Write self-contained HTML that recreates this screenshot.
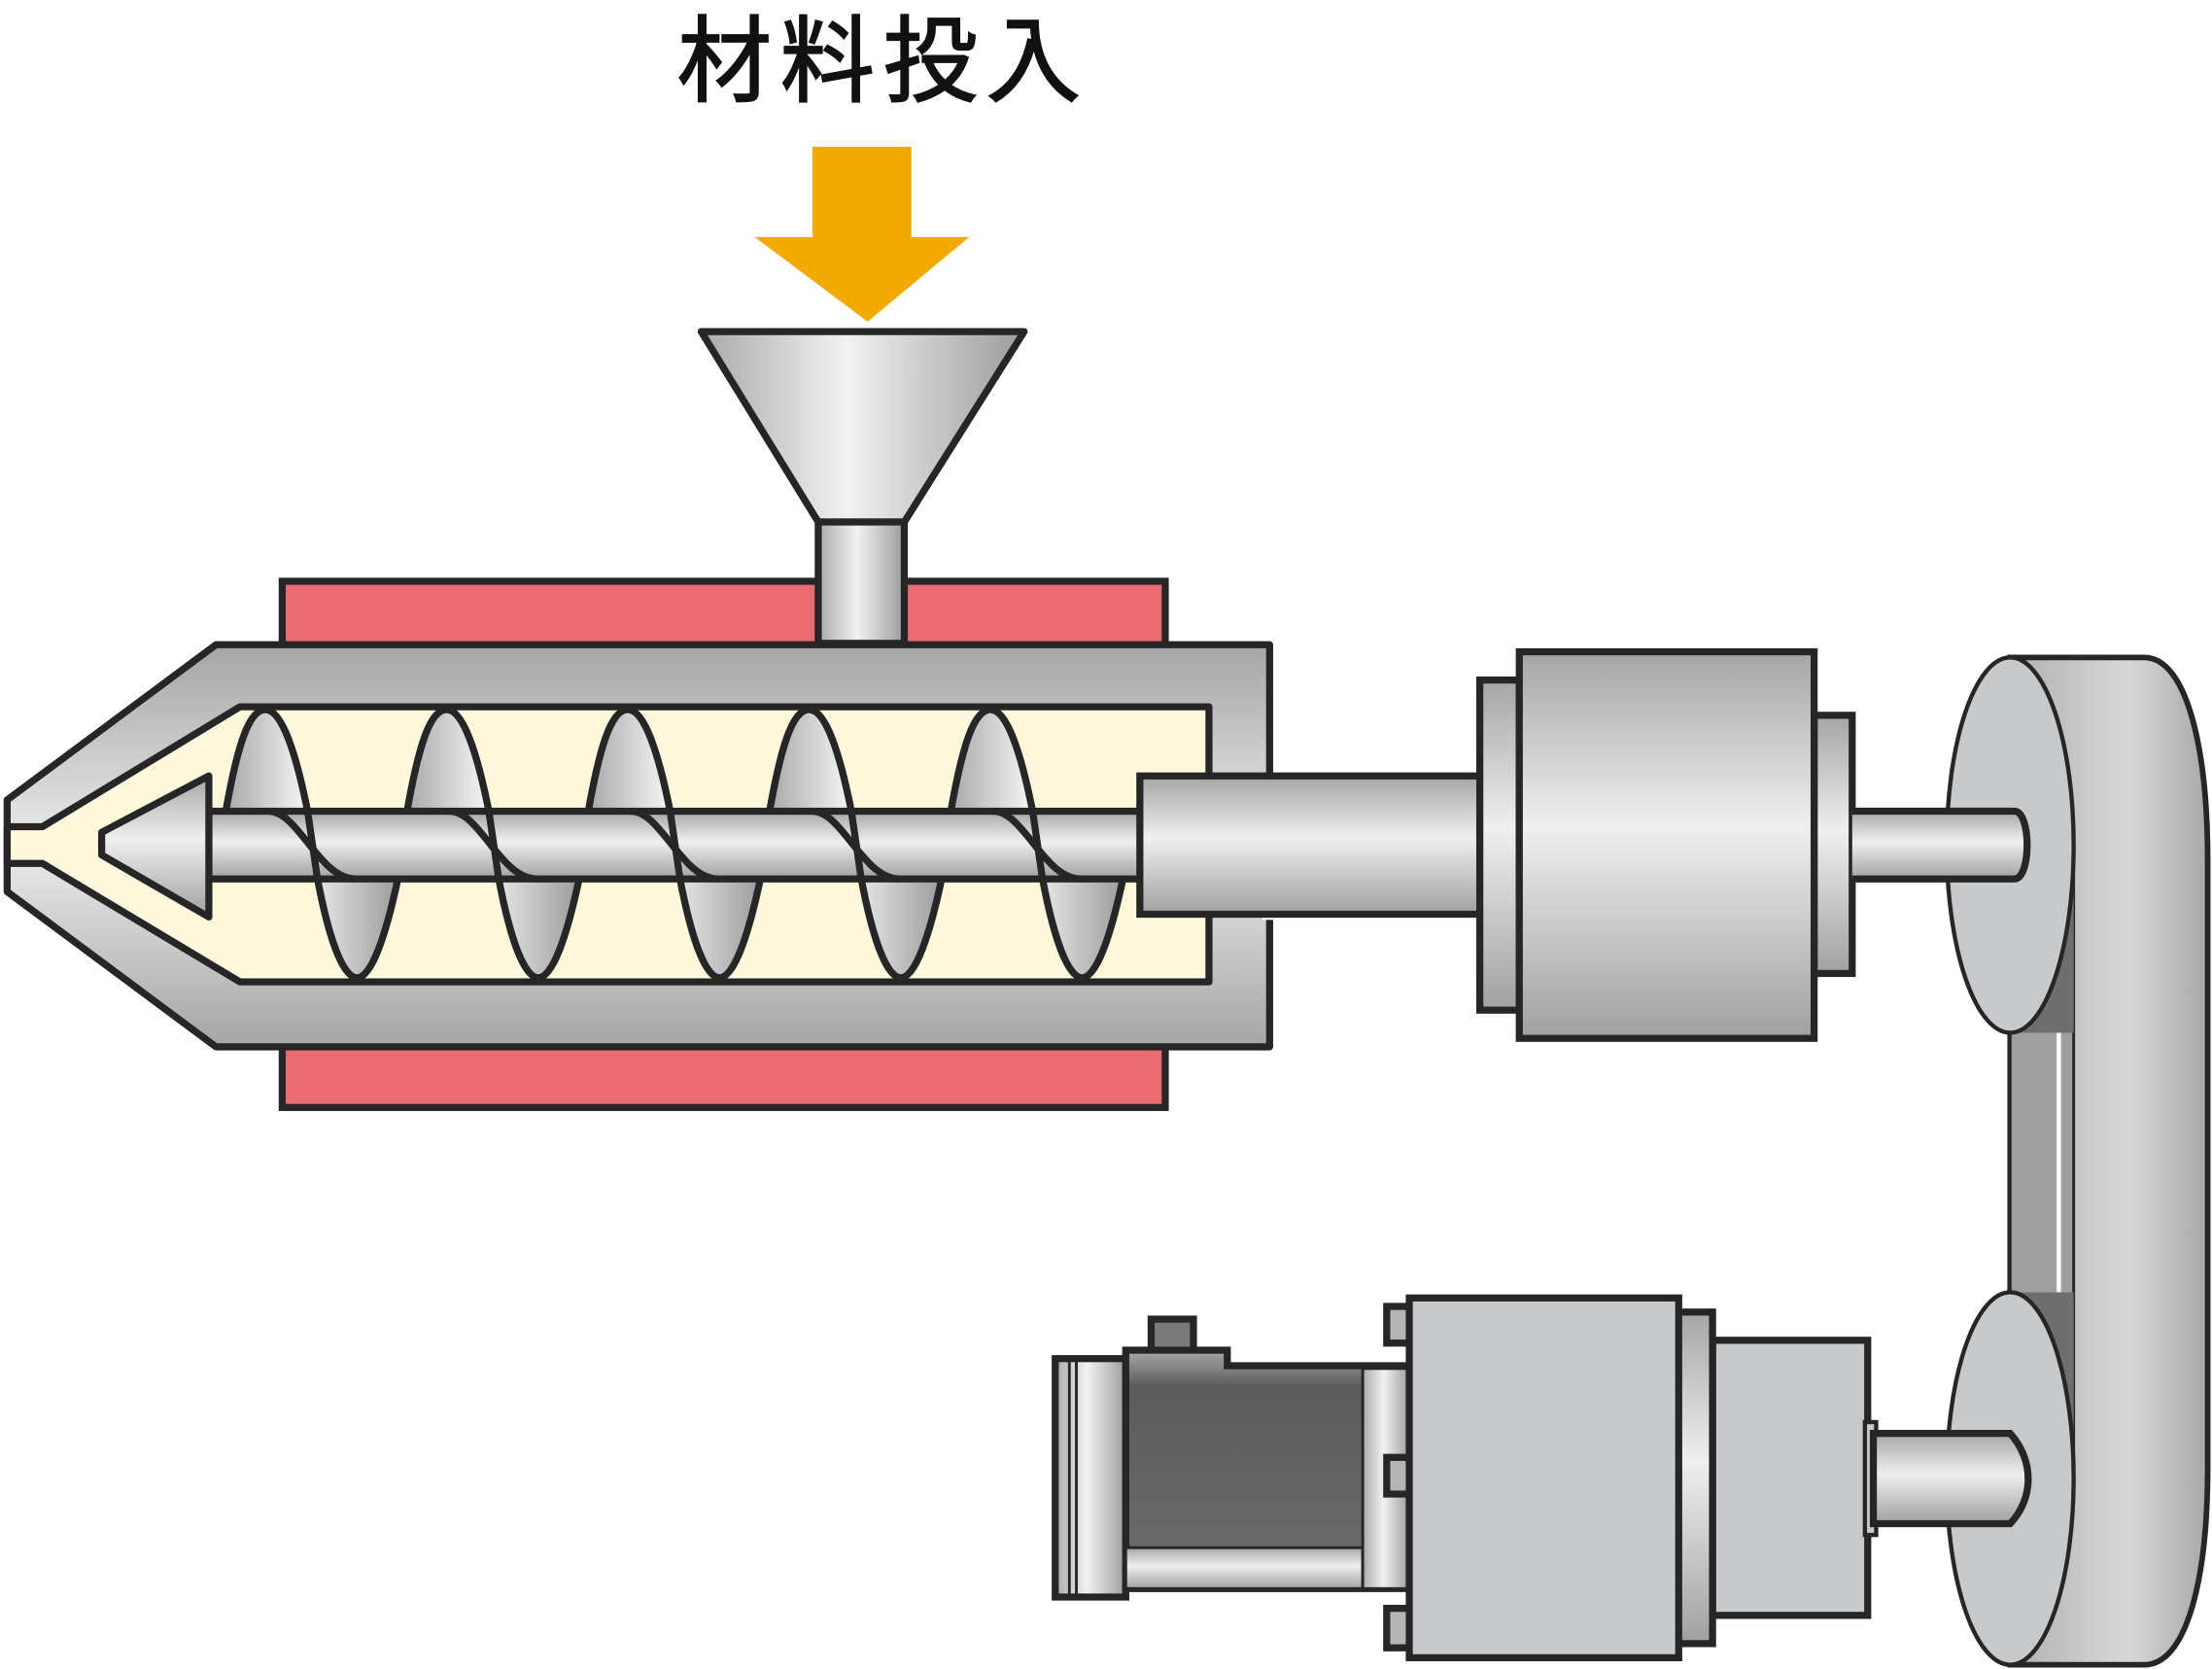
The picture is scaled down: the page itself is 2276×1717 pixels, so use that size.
<!DOCTYPE html>
<html><head><meta charset="utf-8"><style>html,body{margin:0;padding:0;background:#fff;}svg{display:block}</style></head>
<body>
<svg width="2276" height="1717" viewBox="0 0 1568 1183" xmlns="http://www.w3.org/2000/svg">
<defs>
<linearGradient id="h" x1="0" y1="0" x2="1" y2="0"><stop offset="0" stop-color="#a9a9a9"/><stop offset="0.45" stop-color="#f2f2f2"/><stop offset="1" stop-color="#9c9c9c"/></linearGradient>
<linearGradient id="v" x1="0" y1="0" x2="0" y2="1"><stop offset="0" stop-color="#a5a5a5"/><stop offset="0.45" stop-color="#efefef"/><stop offset="1" stop-color="#a0a0a0"/></linearGradient>
<linearGradient id="bv" x1="0" y1="0" x2="0" y2="1"><stop offset="0" stop-color="#a5a5a5"/><stop offset="0.5" stop-color="#ececec"/><stop offset="1" stop-color="#a5a5a5"/></linearGradient>
<linearGradient id="belt" x1="0" y1="0" x2="1" y2="0"><stop offset="0" stop-color="#b0b0b0"/><stop offset="0.6" stop-color="#d8d8d8"/><stop offset="1" stop-color="#a8a8a8"/></linearGradient>
<linearGradient id="dk" x1="0" y1="0" x2="0" y2="1"><stop offset="0" stop-color="#a8a8a8"/><stop offset="0.15" stop-color="#5c5c5c"/><stop offset="1" stop-color="#6c6c6c"/></linearGradient>
</defs>
<g font-family="Liberation Sans, 'Noto Sans CJK JP', sans-serif">
<text x="626" y="67" font-size="67" text-anchor="middle" letter-spacing="6" fill="#111" stroke="#111" stroke-width="1.2">材料投入</text>
</g>
<polygon points="576,104 646,104 646,168 687,168 615,228 535,168 576,168" fill="#f2a900"/>
<rect x="200" y="412" width="626" height="46" fill="#eb6b73" stroke="#262626" stroke-width="5"/>
<rect x="200" y="740" width="626" height="45" fill="#eb6b73" stroke="#262626" stroke-width="5"/>
<polygon points="497,235 726,235 641,370 580,370" fill="url(#h)" stroke="#262626" stroke-width="5" stroke-linejoin="round"/>
<rect x="580" y="370" width="61" height="86" fill="url(#h)" stroke="#262626" stroke-width="5"/>
<polygon points="5,567 153,457 900,457 900,742 153,742 5,632" fill="url(#bv)" stroke="#262626" stroke-width="5" stroke-linejoin="round"/>
<polygon points="5,586 30,586 170,501 857,501 857,696 170,696 30,612 5,612" fill="#fef8dc" stroke="#262626" stroke-width="5" stroke-linejoin="round"/>
<rect x="895" y="548" width="12" height="104" fill="#fff"/>
<g id="f">
<path d="M160,575 C168,530 176,503 188,503 C200,503 210,535 218,575 L225,623 C233,665 243,693 253,693 C263,693 273,665 282,623 L160,575 Z" fill="url(#h)" stroke="#262626" stroke-width="5"/>
</g>
<use href="#f" x="128.5"/><use href="#f" x="257"/><use href="#f" x="385.5"/><use href="#f" x="514"/>
<rect x="148" y="575" width="662" height="48" fill="url(#v)" stroke="#262626" stroke-width="5"/>
<g id="s" fill="none" stroke="#262626" stroke-width="5">
<path d="M190,575 C212,575 226,623 252,623"/>
<path d="M218,575 L225,623"/>
</g>
<use href="#s" x="128.5"/><use href="#s" x="257"/><use href="#s" x="385.5"/><use href="#s" x="514"/>
<polygon points="72,590 148,550 148,650 72,606" fill="url(#v)" stroke="#262626" stroke-width="5" stroke-linejoin="round"/>
<rect x="808" y="550" width="242" height="98" fill="url(#v)" stroke="#262626" stroke-width="5"/>
<rect x="1049" y="482" width="28" height="234" fill="url(#v)" stroke="#262626" stroke-width="5"/>
<rect x="1286" y="507" width="27" height="183" fill="url(#v)" stroke="#262626" stroke-width="5"/>
<rect x="1077" y="462" width="209" height="274" fill="url(#v)" stroke="#262626" stroke-width="5"/>
<path d="M1425,466 H1520 C1550,466 1565,530 1565,610 V1040 C1565,1120 1550,1180 1520,1180 H1425 Z" fill="url(#belt)" stroke="#262626" stroke-width="4"/>
<rect x="1425" y="600" width="45" height="450" fill="#9f9f9f" stroke="#262626" stroke-width="2"/>
<rect x="1458" y="732" width="3" height="184" fill="#fff"/>
<rect x="1425" y="600" width="45" height="132" fill="#6e6e6e"/>
<rect x="1425" y="916" width="45" height="132" fill="#6e6e6e"/>
<ellipse cx="1425" cy="599" rx="45" ry="133" fill="#c8c9cb" stroke="#262626" stroke-width="3"/>
<ellipse cx="1425" cy="1048" rx="45" ry="132" fill="#c8c9cb" stroke="#262626" stroke-width="3"/>
<path d="M1313,575 H1428 C1440,575 1440,623 1428,623 H1313" fill="url(#v)" stroke="#262626" stroke-width="5"/>
<rect x="748" y="963" width="50" height="169" fill="url(#h)" stroke="#262626" stroke-width="5"/>
<line x1="758" y1="965" x2="758" y2="1130" stroke="#262626" stroke-width="2"/>
<line x1="763" y1="965" x2="763" y2="1130" stroke="#262626" stroke-width="2"/>
<rect x="816" y="935" width="30" height="24" fill="#7a7a7a" stroke="#262626" stroke-width="5"/>
<path d="M798,957 H870 V968 H999 V1126 H798 Z" fill="url(#dk)" stroke="#262626" stroke-width="5"/>
<rect x="798" y="1097" width="168" height="29" fill="url(#v)" stroke="#262626" stroke-width="2"/>
<rect x="966" y="970" width="33" height="156" fill="url(#h)" stroke="#262626" stroke-width="2"/>
<rect x="983" y="926" width="18" height="26" fill="#b4b4b4" stroke="#262626" stroke-width="5"/>
<rect x="983" y="1033" width="18" height="26" fill="#b4b4b4" stroke="#262626" stroke-width="5"/>
<rect x="983" y="1140" width="18" height="28" fill="#b4b4b4" stroke="#262626" stroke-width="5"/>
<rect x="1214" y="950" width="110" height="195" fill="#c8c9cb" stroke="#262626" stroke-width="5"/>
<rect x="1188" y="930" width="26" height="235" fill="url(#v)" stroke="#262626" stroke-width="5"/>
<rect x="999" y="920" width="191" height="255" fill="#c8c9cb" stroke="#262626" stroke-width="5"/>
<rect x="1322" y="1008" width="8" height="80" fill="#c8c9cb" stroke="#262626" stroke-width="3"/>
<path d="M1328,1016 H1425 C1442,1035 1442,1062 1425,1080 H1328 Z" fill="url(#v)" stroke="#262626" stroke-width="5"/>
</svg>
</body></html>
